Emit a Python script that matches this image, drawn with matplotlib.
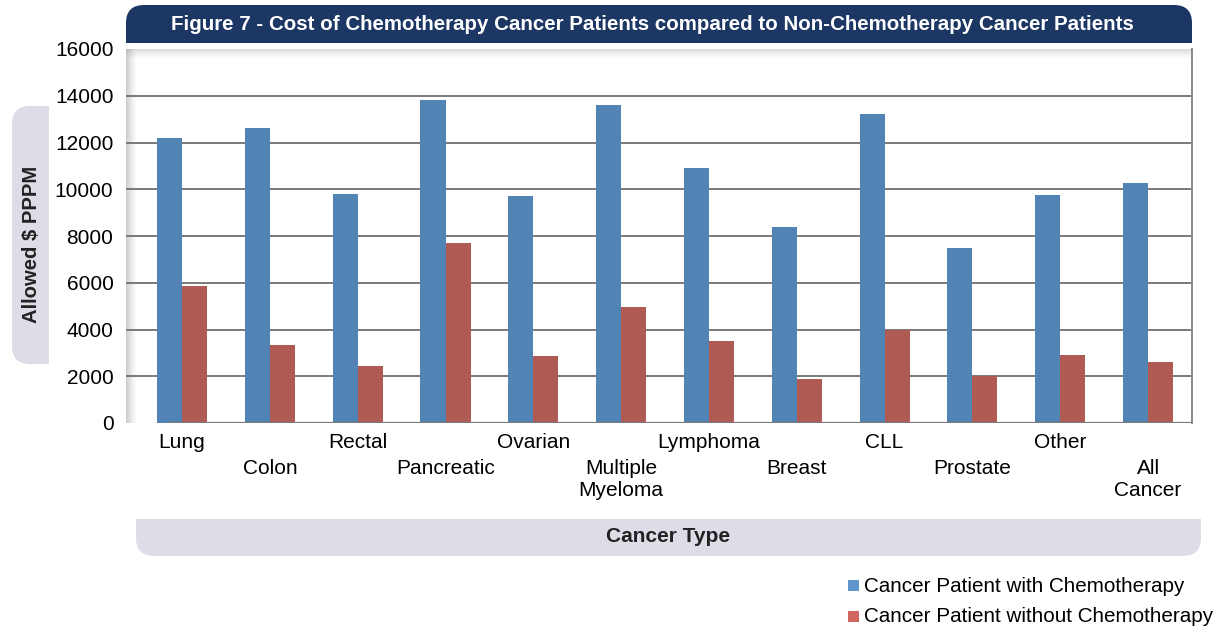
import numpy as np
import matplotlib
matplotlib.use('Agg')
import matplotlib.pyplot as plt
from matplotlib.patches import FancyBboxPatch, Rectangle

# data
cancer_types = ['Lung', 'Colon', 'Rectal', 'Pancreatic', 'Ovarian',
                'Multiple\nMyeloma', 'Lymphoma', 'Breast', 'CLL',
                'Prostate', 'Other', 'All\nCancer']
with_chemo = [12200, 12600, 9800, 13800, 9700, 13600,
              10900, 8400, 13200, 7500, 9750, 10250]
without_chemo = [5850, 3350, 2450, 7700, 2850, 4950,
                 3500, 1900, 4000, 2000, 2900, 2600]
y_ticks = [0, 2000, 4000, 6000, 8000, 10000, 12000, 14000, 16000]

W, H = 1221, 631
BLUE = '#5283b5'
RED = '#b05a54'
NAVY = '#1c3764'
LIGHT = '#dcdde7'
FONT = 'Liberation Sans'
FS = 15

fig = plt.figure(figsize=(W / 100, H / 100), dpi=100)

# background axes in pixel units for the decorative boxes and legend
bg = fig.add_axes([0, 0, 1, 1], zorder=0)
bg.set_xlim(0, W)
bg.set_ylim(H, 0)
bg.axis('off')


def box(x0, y0, x1, y1, color, square):
    # rounded box; 'square' names the side whose corners stay square
    bg.add_patch(FancyBboxPatch((x0, y0), x1 - x0, y1 - y0,
                                boxstyle='round,pad=0,rounding_size=18',
                                fc=color, ec='none'))
    if square == 'bottom':
        bg.add_patch(Rectangle((x0, (y0 + y1) / 2), x1 - x0, (y1 - y0) / 2, fc=color, ec='none'))
    elif square == 'top':
        bg.add_patch(Rectangle((x0, y0), x1 - x0, (y1 - y0) / 2, fc=color, ec='none'))
    elif square == 'right':
        bg.add_patch(Rectangle(((x0 + x1) / 2, y0), (x1 - x0) / 2, y1 - y0, fc=color, ec='none'))


box(126, 5, 1192, 43, NAVY, 'bottom')
bg.text(652, 25, 'Figure 7 - Cost of Chemotherapy Cancer Patients compared to Non-Chemotherapy Cancer Patients',
        color='white', fontsize=14.8, fontweight='bold', ha='center', va='center', family=FONT)

box(12, 106, 49, 364, LIGHT, 'right')
bg.text(32, 244, 'Allowed $ PPPM', rotation=90, fontsize=14.6, fontweight='bold',
        ha='center', va='center', family=FONT, color='#222222')

box(136, 519, 1201, 556, LIGHT, 'top')
bg.text(668, 537, 'Cancer Type', fontsize=15, fontweight='bold',
        ha='center', va='center', family=FONT, color='#222222')

# legend
bg.add_patch(Rectangle((848, 580), 11, 11, fc='#6096cb', ec='none'))
bg.text(864, 586, 'Cancer Patient with Chemotherapy', fontsize=14.9, va='center', family=FONT)
bg.add_patch(Rectangle((848, 611), 11, 11, fc='#d0675f', ec='none'))
bg.text(864, 617, 'Cancer Patient without Chemotherapy', fontsize=14.9, va='center', family=FONT)

# main plot
ax = fig.add_axes([126 / W, 1 - 423 / H, (1192 - 126) / W, (423 - 49) / H], zorder=1)
x = np.arange(len(cancer_types))
bw = 0.285
ax.bar(x - bw / 2, with_chemo, bw, color=BLUE, zorder=3)
ax.bar(x + bw / 2, without_chemo, bw, color=RED, zorder=3)

ax.set_yticks(y_ticks)
ax.set_yticklabels([str(t) for t in y_ticks], fontsize=FS, family=FONT)
ax.tick_params(axis='y', length=0, pad=9)
ax.set_xticks([])
for t in y_ticks[1:-1]:
    ax.axhline(t, color='#7a7a7a', lw=1.4, zorder=1)
ax.axhline(0, xmin=0.039, color='#7a7a7a', lw=1.6, zorder=4)
for s in ['top', 'left', 'bottom']:
    ax.spines[s].set_visible(False)
ax.spines['right'].set_color('#8a8a8a')
ax.spines['right'].set_linewidth(1.4)

# soft shadow along the left and top edges of the plot area
grad = np.zeros((1, 64, 4))
grad[..., :3] = 0.55
grad[0, :, 3] = np.linspace(0.6, 0, 64) ** 1.5
ax.imshow(grad, extent=(0, 0.011, 0, 1), transform=ax.transAxes, aspect='auto', zorder=0.5)
gradv = np.zeros((64, 1, 4))
gradv[..., :3] = 0.55
gradv[:, 0, 3] = np.linspace(0.5, 0, 64) ** 1.5
ax.imshow(gradv, extent=(0, 1, 0.97, 1), transform=ax.transAxes, aspect='auto', zorder=0.5,
          origin='upper')
ax.set_xlim(-0.638, 11.5)
ax.set_ylim(0, 16000)

# staggered category labels
for i, name in enumerate(cancer_types):
    ytop = -0.027 if i % 2 == 0 else -0.097
    ax.text(i, ytop, name, transform=ax.get_xaxis_transform(), ha='center', va='top',
            fontsize=FS, family=FONT, linespacing=1.2)

fig.savefig('out.png', dpi=100)
